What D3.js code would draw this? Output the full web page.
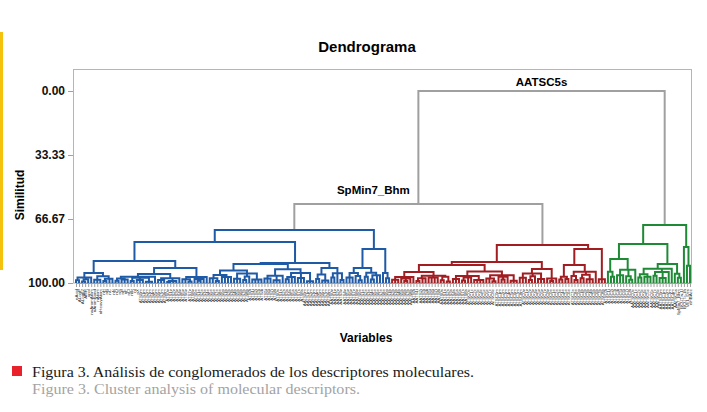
<!DOCTYPE html>
<html>
<head>
<meta charset="utf-8">
<script src="https://cdn.jsdelivr.net/npm/d3@7"></script>
<style>
  body { margin: 0; background: #fff; }
  svg { display: block; }
</style>
</head>
<body>
<div id="chart"></div>
<script>
// leaf labels, left to right
var leafLabels = ("nAcid ALogP ALogp2 AMR apol naAromAtom nAromBond nAtom nHeavyAtom nH nB nC nN nO nS nP nF nCl nBr nI nX " +
  "ATS0m ATS1m ATS2m ATS3m ATS4m ATS5m ATS6m ATS7m ATS8m ATS0v ATS1v ATS2v ATS3v ATS4v ATS5v ATS6v ATS7v ATS8v " +
  "ATS0e ATS1e ATS2e ATS3e ATS4e ATS5e ATS6e ATS7e ATS8e ATS0p ATS1p ATS2p ATS3p ATS4p ATS5p ATS6p ATS7p ATS8p " +
  "ATS0i ATS1i ATS2i ATS3i ATS4i ATS5i ATS6i ATS7i ATS8i ATS0s ATS1s ATS2s ATS3s ATS4s ATS5s ATS6s ATS7s ATS8s " +
  "AATS0m AATS1m AATS2m AATS3m AATS4m AATS5m AATS6m AATS7m AATS8m AATS0v AATS1v AATS2v AATS3v AATS4v AATS5v AATS6v AATS7v AATS8v " +
  "AATS0e AATS1e AATS2e AATS3e AATS4e AATS5e AATS6e AATS7e AATS8e AATS0p AATS1p " +
  "AATS2p AATS3p AATS4p AATS5p AATS6p AATS7p AATS8p AATS0i AATS1i AATS2i AATS3i AATS4i AATS5i AATS6i AATS7i AATS8i " +
  "AATS0s AATS1s AATS2s AATS3s AATS4s AATS5s AATS6s AATS7s AATS8s ATSC0c ATSC1c ATSC2c ATSC3c ATSC4c ATSC5c ATSC6c ATSC7c ATSC8c " +
  "ATSC0m ATSC1m ATSC2m ATSC3m ATSC4m ATSC5m ATSC6m ATSC7m ATSC8m ATSC0v ATSC1v ATSC2v ATSC3v ATSC4v ATSC5v ATSC6v ATSC7v ATSC8v " +
  "ATSC0e ATSC1e ATSC2e ATSC3e ATSC4e ATSC5e ATSC6e ATSC7e ATSC8e ATSC0p ATSC1p ATSC2p ATSC3p ATSC4p ATSC5p ATSC6p ATSC7p ATSC8p ATSC0i " +
  "ATSC1i ATSC2i ATSC3i ATSC4i ATSC5i ATSC6i ATSC7i ATSC8i AATSC0c AATSC1c AATSC2c AATSC3c AATSC4c AATSC5c AATSC6c AATSC7c AATSC8c " +
  "AATSC0m AATSC1m AATSC2m AATSC3m AATSC4m AATSC5s SpMin7_Bhm BCUTw-1l BCUTc-1h VE1_Dzs nHBAcc").split(" ");

// tree nodes: [similarity, child, child, ...]; 0 = a leaf
var blueTree = [72.4,
  [78.6,
    [88.5,
      [94.8, [97.2, [98.6,0,0], [98.1,[99.2,0,0],0], 0], [96.5, [98.3,0,0,0], [97.8,[99,0,0],0,0]]],
      [92.2,
        [95.3,
          [96.8, [97.6,[98.8,0,0],[98.2,0,0,0]], [97.3,[99,0,0],[98.5,0,0,0],[99.4,0,0,0]], 0],
          [97.5, [98.4,0,0,0], [98.9,[99.5,0,0],0,0], 0]],
        [96.9, [98.1,0,0,[99.2,0,0]], [97.9,0,[98.8,0,0],0], 0]]],
    [89.6,
      [90.1,
        [93.5, [95.8,[97.5,0,0,[98.9,0,0]],[96.9,0,0,0,0]], [95.1,[97.8,0,0,0],[96.6,[98.4,0,0],0],[98.2,0,0,0,0]]],
        [92.9, [96.2,[97.7,0,0,0],[98.6,0,0,0],0], [94.8,[96.9,[98.1,0,0],0,0],[97.4,0,0,0],[99.1,0,0,0]]]],
      [92.2, [95.6,[97.9,0,0],[98.7,0,0,0]], [94.9,[97.2,0,0],0,[98.4,0,0]]]]],
  [82.3,
    [92.2, [94.8,[97.1,0,0,0],[96.4,0,[98.6,0,0]]], [94.6,[96.8,0,0],[95.9,[98.2,0,0],0,0]]],
    [94.8, 0, [97.5,0,0]]]];

var redTree = [80.2,
  [89.1,
    [90.6,
      [94.3,
        [96.9, [98.3,0,0,0], [97.6,0,[99,0,0],0], 0],
        [96.2, [97.5,[98.9,0,0],0,0], [97.1,0,0,0,0], [96.8,[98.6,0,0],[99.2,0,0]]]],
      [94.0,
        [96.4, [97.9,0,0,0], [97.2,[98.7,0,0],0,0], [98.4,0,0,0,0]],
        [95.9, [97.6,0,0,[99.1,0,0]], [96.7,0,[98.2,0,0],0], [98.8,0,0,0]]]],
    [92.7,
      [95.1, [97.3,0,0,0], [96.5,[98.5,0,0],0], [97.9,0,0,0]],
      [97.6, 0, [98.9,0,0], 0]]],
  [82.3,
    [90.6,
      [96.8, [98.2,0,0], [97.9,0,0]],
      [94.1, [96.3,0,[98.4,0,0]], [95.7,[97.5,0,0],[98.1,0,0,0]], 0]],
    [98, 0, 0, 0]]];

var greenTree = [69.8,
  [79.7,
    [87.5, [94.2,0,[96.8,0,0]], [93.1,[95.9,0,0,0],[96.5,0,[98.3,0,0]],0]],
    [90.1,
      [92.6, [95.4,[97.1,0,0],[96.8,0,0,0]], [94.3,[96.2,0,0],[97.4,0,0,0],0], 0],
      [95.2, 0, [97.3,0,0]]]],
  [81.2, 0, [91, 0, 0]]];

var midTree = [58.9, blueTree, redTree];
var rootTree = [0, midTree, greenTree];

var clusterColors = [[blueTree, "#1f5aa6"], [redTree, "#a11d21"], [greenTree, "#1f8a36"]];
var linkGray = "#a0a0a0";
var simTicks = [0, 33.33, 66.67, 100];

var W = 707, H = 412;
var svg = d3.select("#chart").append("svg")
    .attr("width", W)
    .attr("height", H)
    .style("font-family", "'Liberation Sans', Arial, sans-serif");

// yellow side strip
svg.append("rect").attr("x", 0).attr("y", 32).attr("width", 3).attr("height", 238).attr("fill", "#f4c20d");

var x = d3.scalePoint().domain(leafLabels).range([76, 690]);
var y = d3.scaleLinear().domain([0, 100]).range([91, 283]);

// plot frame
svg.append("rect")
    .attr("x", 73.5).attr("y", 69.5)
    .attr("width", 618).attr("height", 213.5)
    .attr("fill", "none").attr("stroke", "#b5b5b5").attr("stroke-width", 1);

svg.append("text")
    .attr("x", 367).attr("y", 52)
    .attr("text-anchor", "middle")
    .attr("font-size", 15).attr("font-weight", "bold")
    .text("Dendrograma");

// y axis
var yAxis = svg.append("g")
    .attr("transform", "translate(73,0)")
    .call(d3.axisLeft(y).tickValues(simTicks).tickFormat(d3.format(".2f")).tickSize(5).tickPadding(3));
yAxis.select(".domain").remove();
yAxis.selectAll("line").attr("stroke", "#a0a0a0");
yAxis.selectAll("text")
    .attr("font-size", 12).attr("font-weight", "bold")
    .attr("font-family", "'Liberation Sans', Arial, sans-serif").attr("fill", "#111");

svg.append("text")
    .attr("transform", "translate(24,195) rotate(-90)")
    .attr("text-anchor", "middle")
    .attr("font-size", 12).attr("font-weight", "bold")
    .text("Similitud");

// x axis with leaf names
var xAxis = svg.append("g")
    .attr("transform", "translate(0,283)")
    .call(d3.axisBottom(x).tickSize(4).tickPadding(1));
xAxis.select(".domain").attr("stroke", "#a0a0a0");
xAxis.selectAll("line").attr("stroke", "#a0a0a0");
xAxis.selectAll("text")
    .attr("font-size", 4.4)
    .attr("fill", "#2a2a2a")
    .attr("font-family", "'Liberation Sans', Arial, sans-serif")
    .attr("text-anchor", "end")
    .attr("transform", "rotate(-90)")
    .attr("dy", "0.35em")
    .attr("x", -6).attr("y", 0);

svg.append("text")
    .attr("x", 366).attr("y", 342)
    .attr("text-anchor", "middle")
    .attr("font-size", 12).attr("font-weight", "bold")
    .text("Variables");

// build hierarchy
var root = d3.hierarchy(rootTree, function(d) { return Array.isArray(d) ? d.slice(1) : null; });
root.leaves().forEach(function(leaf, i) { leaf.label = leafLabels[i]; });
var colorMap = new Map(clusterColors);
root.eachBefore(function(n) {
  n.color = colorMap.has(n.data) ? colorMap.get(n.data) : (n.parent ? n.parent.color : linkGray);
});
root.eachAfter(function(n) {
  if (!n.children) {
    n.px = x(n.label);
    n.py = y(100);
  } else {
    n.px = (n.children[0].px + n.children[n.children.length - 1].px) / 2;
    n.py = y(n.data[0]);
  }
});

var internal = root.descendants().filter(function(n) { return n.children; });
svg.append("g")
    .attr("fill", "none")
    .attr("stroke-width", 2)
    .attr("stroke-linejoin", "miter")
    .selectAll("path")
    .data(internal)
    .join("path")
    .attr("stroke", function(n) { return n.color; })
    .attr("d", function(n) {
      var p = d3.path();
      var first = n.children[0], last = n.children[n.children.length - 1];
      p.moveTo(first.px, first.py);
      p.lineTo(first.px, n.py);
      p.lineTo(last.px, n.py);
      p.lineTo(last.px, last.py);
      n.children.slice(1, -1).forEach(function(c) {
        p.moveTo(c.px, n.py);
        p.lineTo(c.px, c.py);
      });
      return p.toString();
    });

// cluster names
svg.append("text")
    .attr("x", root.px).attr("y", 86)
    .attr("text-anchor", "middle")
    .attr("font-size", 11.5).attr("font-weight", "bold")
    .text("AATSC5s");
svg.append("text")
    .attr("x", root.children[0].px - 45).attr("y", 194)
    .attr("text-anchor", "middle")
    .attr("font-size", 11.5).attr("font-weight", "bold")
    .text("SpMin7_Bhm");

// caption
svg.append("rect").attr("x", 12).attr("y", 366).attr("width", 10).attr("height", 10).attr("fill", "#e8212b");
svg.append("text")
    .attr("x", 32).attr("y", 377)
    .attr("font-family", "'Liberation Serif', 'DejaVu Serif', serif")
    .attr("font-size", 15.5)
    .attr("fill", "#1a1a1a")
    .attr("textLength", 442).attr("lengthAdjust", "spacingAndGlyphs")
    .text("Figura 3. Análisis de conglomerados de los descriptores moleculares.");
svg.append("text")
    .attr("x", 32).attr("y", 394)
    .attr("font-family", "'Liberation Serif', 'DejaVu Serif', serif")
    .attr("font-size", 15.5)
    .attr("fill", "#a3a3a3")
    .attr("textLength", 328).attr("lengthAdjust", "spacingAndGlyphs")
    .text("Figure 3. Cluster analysis of molecular descriptors.");
</script>
</body>
</html>
